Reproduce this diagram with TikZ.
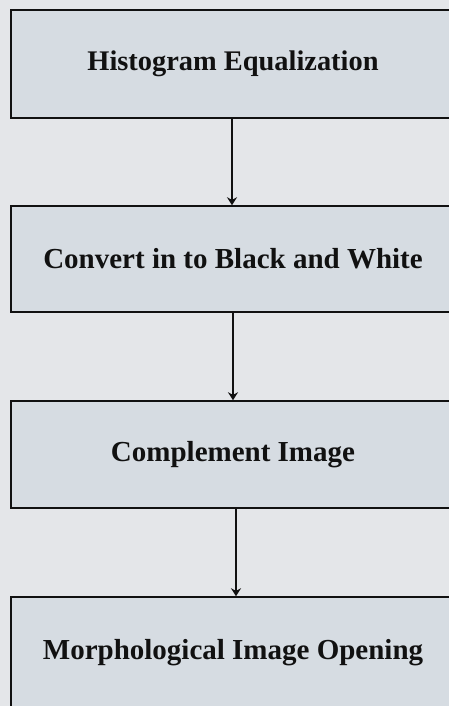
\documentclass[tikz,border=0pt]{standalone}
\usepackage{fontspec}
\setmainfont{Liberation Serif}
\usetikzlibrary{arrows.meta}
\definecolor{bg}{HTML}{E4E6E9}
\definecolor{boxfill}{HTML}{D6DCE2}
\definecolor{ink}{HTML}{111111}
\tikzset{
  stepbox/.style={draw=ink, line width=1.5pt, fill=boxfill, rectangle,
    minimum width=444pt, inner sep=0pt, font=\bfseries\fontsize{29}{34}\selectfont, text=ink},
  flow/.style={draw=ink, line width=2.2pt, -{Stealth[length=8pt,width=10pt]}}
}
\begin{document}
\begin{tikzpicture}[x=1pt,y=1pt]
\clip (0,0) rectangle (449,-706);
\fill[bg] (0,0) rectangle (449,-706);
\node[stepbox, minimum height=108pt, font=\bfseries\fontsize{28.4}{34}\selectfont] (b1) at (233,-64) {Histogram Equalization};
\node[stepbox, minimum height=106pt] (b2) at (233,-259) {Convert in to Black and White};
\node[stepbox, minimum height=107pt] (b3) at (233,-454.5) {Complement Image};
\node[stepbox, minimum height=112pt] (b4) at (233,-653) {Morphological Image Opening};
\draw[flow] ([xshift=-1pt]b1.south) -- ([xshift=-1pt]b2.north);
\draw[flow] (b2.south) -- (b3.north);
\draw[flow] ([xshift=3pt]b3.south) -- ([xshift=3pt]b4.north);
\end{tikzpicture}
\end{document}
